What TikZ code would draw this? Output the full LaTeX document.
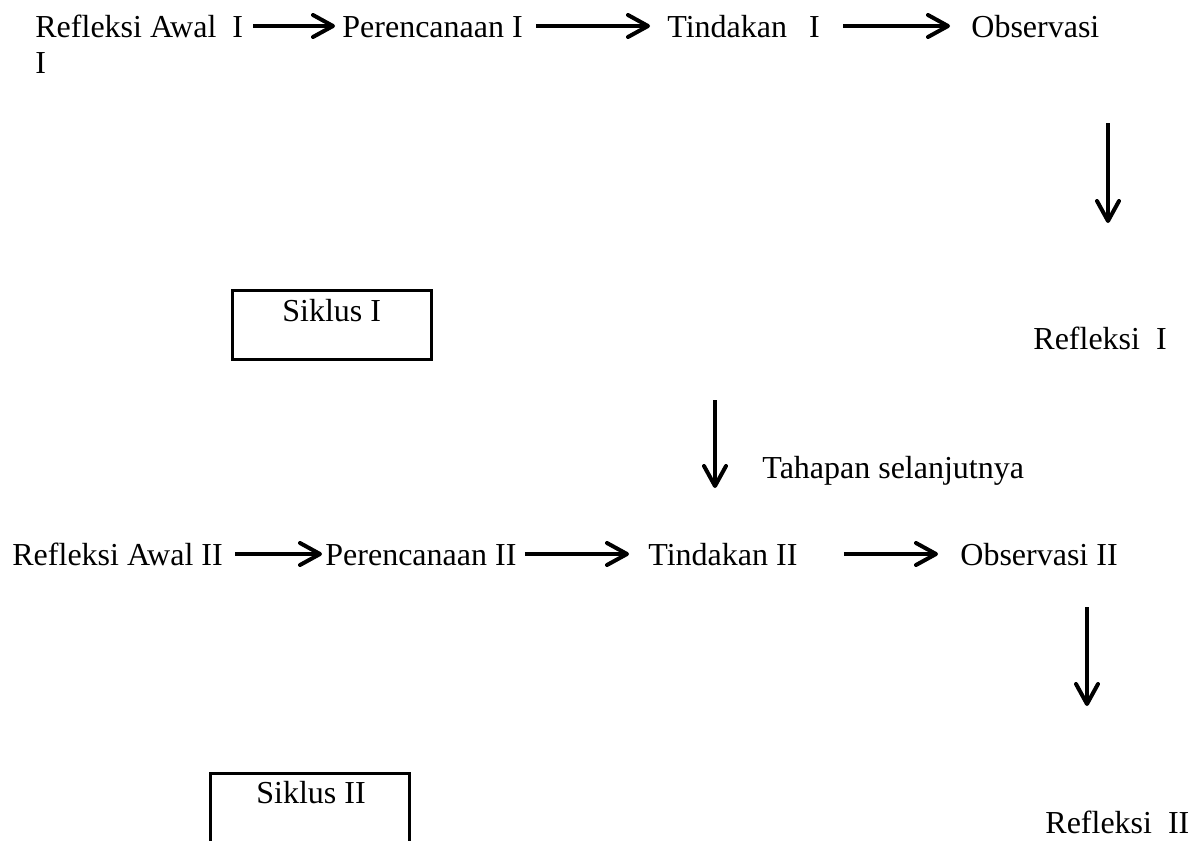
\documentclass[tikz,border=0pt]{standalone}
\usepackage{fontspec}
\setmainfont{Liberation Serif}
\usetikzlibrary{arrows.meta,calc}
\begin{document}
\begin{tikzpicture}[x=0.5pt,y=-0.5pt,
  lbl/.style={anchor=base west,inner sep=0pt,font=\fontsize{16}{19}\selectfont},
  arr/.style={line width=1.75pt,-{Straight Barb[length=10pt,width=11pt,line width=2pt,round]}},
  frame/.style={line width=1.5pt}]
\useasboundingbox (0,0) rectangle (1200,841);
% row 1
\node[lbl] (ra1) at (35,37) {Refleksi Awal\ \ I};
\node[lbl] (pr1) at (342,37) {Perencanaan I};
\node[lbl] (ti1) at (667,37) {Tindakan\hspace{11pt}I};
\node[lbl] (ob1) at (971,37) {Observasi};
\node[lbl] (ob1b) at (35,73) {I};
\draw[arr] ($(ra1.base east)+(10,-11)$) -- ($(pr1.base west)+(-7,-11)$);
\draw[arr] ($(pr1.base east)+(13,-11)$) -- ($(ti1.base west)+(-17,-11)$);
\draw[arr] ($(ti1.base east)+(23,-11)$) -- ($(ob1.base west)+(-21,-11)$);
% first down arrow
\coordinate (v1s) at (1108,123);
\coordinate (v1e) at (1108,223);
\draw[arr] (v1s) -- (v1e);
% Siklus I
\draw[frame] (232,290) rectangle (431,359);
\node[lbl] (sk1) at (282,321) {Siklus I};
\node[lbl] (rf1) at (1033,349) {Refleksi\ \ I};
% second down arrow
\coordinate (v2s) at (715,400);
\coordinate (v2e) at (715,488);
\draw[arr] (v2s) -- (v2e);
\node[lbl] (th) at (762,478) {Tahapan selanjutnya};
% row 2
\node[lbl] (ra2) at (12,565) {Refleksi Awal II};
\node[lbl] (pr2) at (325,565) {Perencanaan II};
\node[lbl] (ti2) at (648,565) {Tindakan II};
\node[lbl] (ob2) at (960,565) {Observasi II};
\draw[arr] ($(ra2.base east)+(12,-11)$) -- ($(pr2.base west)+(-3,-11)$);
\draw[arr] ($(pr2.base east)+(8,-11)$) -- ($(ti2.base west)+(-19,-11)$);
\draw[arr] ($(ti2.base east)+(46,-11)$) -- ($(ob2.base west)+(-22,-11)$);
% third down arrow
\coordinate (v3s) at (1087,607);
\coordinate (v3e) at (1087,706);
\draw[arr] (v3s) -- (v3e);
% Siklus II
\draw[frame] (210,850) |- (409,773) -- (409,850);
\node[lbl] (sk2) at (256,803) {Siklus II};
\node[lbl] (rf2) at (1045,833) {Refleksi\ \ II};
\end{tikzpicture}
\end{document}
